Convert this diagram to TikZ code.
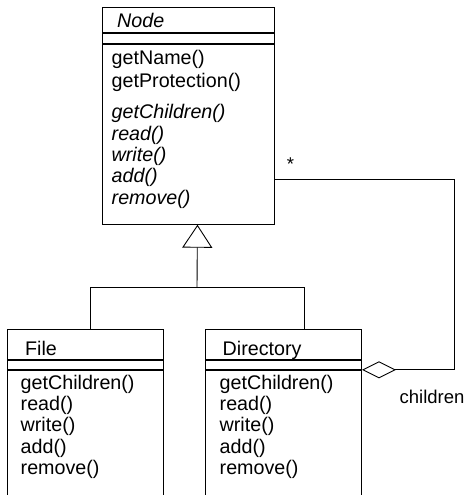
\documentclass[tikz,border=0pt]{standalone}
\usepackage{fontspec}
\setmainfont{Liberation Sans}
\usetikzlibrary{arrows.meta,positioning,calc}

\begin{document}
\begin{tikzpicture}[
  x=1pt,y=-1pt,
  font=\fontsize{19.7}{21.4}\selectfont,
  part/.style={draw,line width=0.9pt,inner sep=0pt,anchor=north west},
  title/.style={anchor=base west,inner sep=0pt},
  ops/.style={anchor=base west,align=left,text width=150pt,inner sep=0pt},
  lbl/.style={font=\fontsize{18.5}{20}\selectfont,inner sep=0pt},
  link/.style={line width=0.9pt},
  gen/.style={link,-{Triangle[open,length=23pt,width=30pt]}},
  agg/.style={link,{Diamond[open,length=34pt,width=17pt]}-}
]
\useasboundingbox (0,0) rectangle (469,495);
\clip (0,0) rectangle (469,495);

% abstract class
\node[part,minimum width=172pt,minimum height=25pt] (node-name) at (102,7) {};
\node[part,minimum width=172pt,minimum height=10pt,below=0pt of node-name] (node-attr) {};
\node[part,minimum width=172pt,minimum height=180pt,below=0pt of node-attr] (node-ops) {};
\node[title] (node-title) at (117,27.5) {\itshape Node};
\node[ops] (node-list) at (111.5,64.5) {getName()\\[2pt]
  getProtection()\\[9.5pt]
  \itshape getChildren()\\ read()\\ write()\\ add()\\ remove()};

% leaf class
\node[part,minimum width=156pt,minimum height=30pt] (file-name) at (7,329) {};
\node[part,minimum width=156pt,minimum height=9pt,below=0pt of file-name] (file-attr) {};
\node[part,minimum width=156pt,minimum height=140pt,below=0pt of file-attr] (file-ops) {};
\node[title] (file-title) at (25,355) {File};
\node[ops] (file-list) at (20.5,389) {getChildren()\\ read()\\ write()\\ add()\\ remove()};

% composite class
\node[part,minimum width=156pt,minimum height=30pt] (dir-name) at (205,329) {};
\node[part,minimum width=156pt,minimum height=9pt,below=0pt of dir-name] (dir-attr) {};
\node[part,minimum width=156pt,minimum height=140pt,below=0pt of dir-attr] (dir-ops) {};
\node[title] (dir-title) at (222.5,355) {Directory};
\node[ops] (dir-list) at (219.5,389) {getChildren()\\ read()\\ write()\\ add()\\ remove()};

% generalization
\coordinate (tip) at ([xshift=9pt]node-ops.south);
\coordinate (fork) at (197,287);
\draw[link] ([xshift=5pt]file-name.north) |- (fork);
\draw[link] ([xshift=21pt]dir-name.north) |- (fork);
\draw[gen] (fork) -- (tip);

% aggregation
\coordinate (bend) at (454,179);
\draw[agg] (dir-attr.south east) -| (bend) -- (bend -| node-ops.east);
\node[lbl,anchor=base] (mult) at (290.5,170.5) {*};
\node[lbl,anchor=base west] (role) at (399.5,403) {children};
\end{tikzpicture}
\end{document}
